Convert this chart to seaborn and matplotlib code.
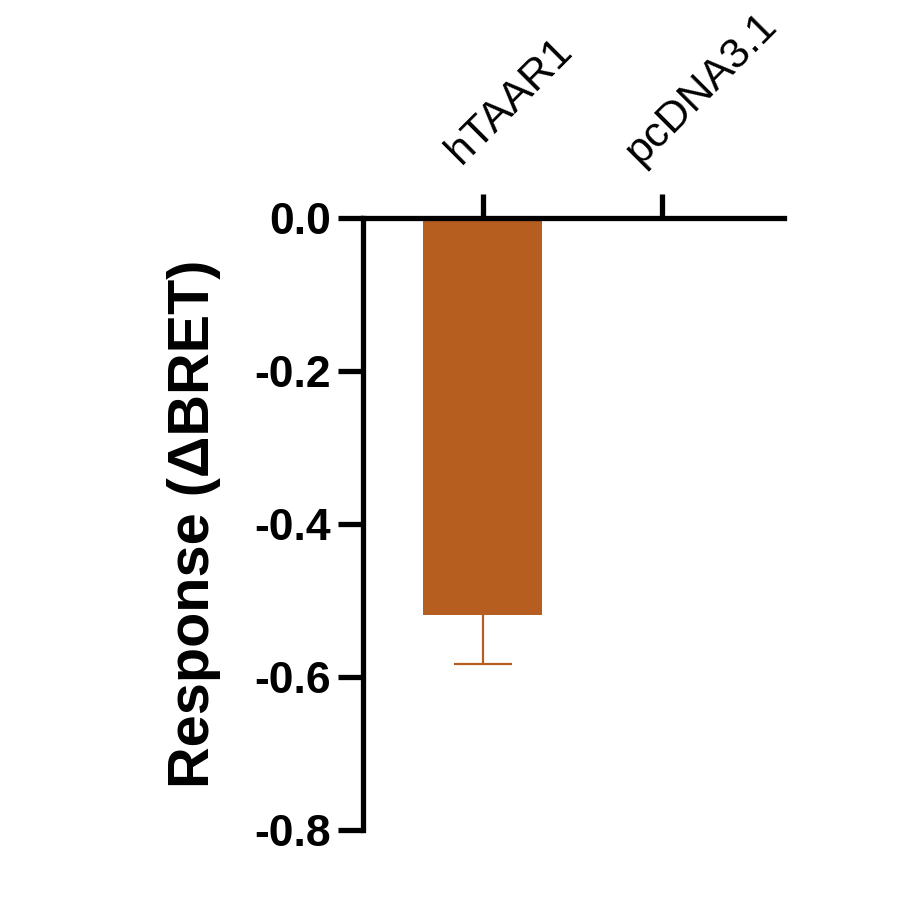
import matplotlib
matplotlib.use("Agg")
import matplotlib.pyplot as plt
import matplotlib.transforms as mtransforms
import seaborn as sns
import pandas as pd

# ---- data ----
categories = ["hTAAR1", "pcDNA3.1"]
response = [-0.52, 0.0]
sem = [0.063, 0.0]
y_ticks = [0.0, -0.2, -0.4, -0.6, -0.8]
y_tick_labels = ["0.0", "-0.2", "-0.4", "-0.6", "-0.8"]

bar_color = "#B55E20"

sns.set_theme(style="white")
plt.rcParams["font.family"] = ["Liberation Sans", "DejaVu Sans"]

df = pd.DataFrame({"group": categories, "resp": response})

fig = plt.figure(figsize=(9.06, 9.17), dpi=100)
ax = fig.add_axes([363 / 906, 1 - 829.5 / 917, 421 / 906, (829.5 - 218) / 917])

sns.barplot(data=df, x="group", y="resp", order=categories, color=bar_color,
            saturation=1, width=0.665, errorbar=None, ax=ax, linewidth=0,
            zorder=2)

# SEM error bar drawn behind the bar, so only the outward half shows
for i, (v, e) in enumerate(zip(response, sem)):
    if e > 0:
        ax.errorbar(i, v, yerr=e, fmt="none", ecolor=bar_color,
                    elinewidth=1.6, capsize=21, capthick=1.6, zorder=1)

ax.set_xlim(-0.670, 1.682)
ax.set_ylim(-0.8, 0.0)

# spines
for s in ["bottom", "right"]:
    ax.spines[s].set_visible(False)
for s in ["left", "top"]:
    ax.spines[s].set_linewidth(3.8)
    ax.spines[s].set_color("black")
    ax.spines[s].set_zorder(3)

# y axis
ax.set_yticks(y_ticks)
ax.set_yticklabels(y_tick_labels, fontsize=32, fontweight="bold")
ax.tick_params(axis="y", left=True, direction="out", length=18, width=3.8,
               pad=5, color="black", labelcolor="black")
ax.set_ylabel("Response (\u0394BRET)", fontsize=41.5, fontweight="bold",
              labelpad=24, color="black")

# x axis on top
ax.set_xlabel("")
ax.xaxis.tick_top()
ax.tick_params(axis="x", top=True, bottom=False, labeltop=True,
               labelbottom=False, direction="out", length=17, width=3.8,
               pad=21, color="black", labelcolor="black", labelsize=31)
offset = mtransforms.ScaledTranslation(-22 / 100, 0, fig.dpi_scale_trans)
for lbl in ax.get_xticklabels():
    lbl.set_rotation(45)
    lbl.set_rotation_mode("anchor")
    lbl.set_ha("left")
    lbl.set_va("baseline")
    lbl.set_fontweight("normal")
    lbl.set_transform(lbl.get_transform() + offset)

fig.savefig("out.png", dpi=100)
